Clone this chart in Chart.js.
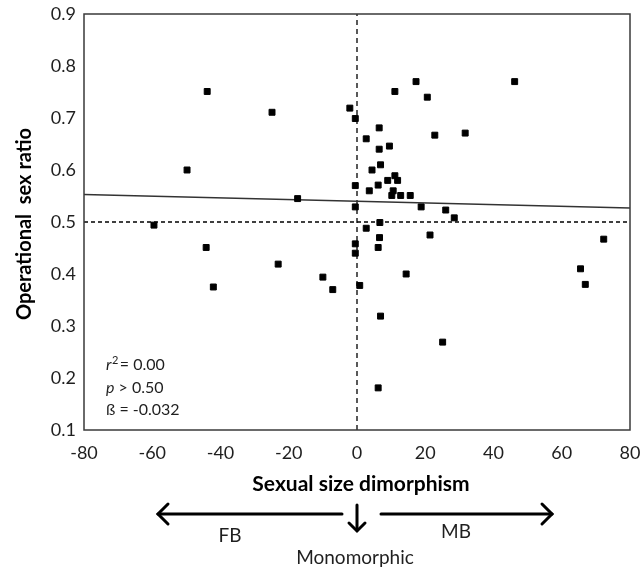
<!DOCTYPE html>
<html>
<head>
<meta charset="utf-8">
<script src="https://cdn.jsdelivr.net/npm/chart.js@4/dist/chart.umd.min.js"></script>
<style>
  html, body { margin: 0; padding: 0; background: #fff; }
</style>
</head>
<body>
<canvas id="osrChart" width="640" height="572"></canvas>
<script>
// sexual size dimorphism (x) and operational sex ratio (y), one entry per species
const ssd = [-43.9, -24.9, -49.8, -17.4, -59.5, -44.2, -42.1, -23.1, -10.0, -7.1,
             -2.1, -0.5, -0.5, -0.5, -0.5, -0.5, 0.8, 11.1, 17.3, 20.6,
             46.2, 6.5, 2.7, 22.8, 31.7, 6.5, 9.5, 6.9, 4.4, 3.6,
             6.2, 9.0, 11.1, 11.9, 10.6, 10.2, 12.8, 15.6, 18.8, 26.0,
             28.5, 6.7, 2.7, 21.4, 6.6, 6.2, 14.4, 6.9, 25.1, 6.2,
             72.3, 65.5, 66.9];
const osr = [0.751, 0.711, 0.600, 0.545, 0.494, 0.451, 0.375, 0.419, 0.394, 0.370,
             0.719, 0.699, 0.570, 0.529, 0.458, 0.440, 0.378, 0.751, 0.770, 0.740,
             0.770, 0.681, 0.660, 0.667, 0.671, 0.640, 0.646, 0.610, 0.600, 0.560,
             0.571, 0.580, 0.589, 0.580, 0.560, 0.551, 0.551, 0.551, 0.529, 0.523,
             0.508, 0.499, 0.488, 0.475, 0.470, 0.451, 0.400, 0.319, 0.269, 0.181,
             0.467, 0.410, 0.380];

// fitted regression line, end points
const fitX = [-80, 80];
const fitY = [0.553, 0.527];

// reference lines: monomorphic (x = 0) and even sex ratio (y = 0.5)
const monoX = [0, 0];
const monoY = [0.1, 0.9];
const evenX = [-80, 80];
const evenY = [0.5, 0.5];

const xTicks = [-80, -60, -40, -20, 0, 20, 40, 60, 80];
const yTicks = [0.1, 0.2, 0.3, 0.4, 0.5, 0.6, 0.7, 0.8, 0.9];

const stats = [
  { sym: 'r', sup: '2', rest: '= 0.00', italic: true },
  { sym: 'p', sup: '', rest: ' > 0.50', italic: true },
  { sym: 'ß', sup: '', rest: ' = -0.032', italic: false }
];

const FONT = 'Lato, "Open Sans", sans-serif';
const INK = '#1f1f1f';

const zip = (xs, ys) => xs.map((x, i) => ({ x, y: ys[i] }));

function arrowHead(ctx, x, y, dir) {
  // open chevron, dir: 'left' | 'right' | 'down'
  const s = 10;
  ctx.beginPath();
  if (dir === 'left')  { ctx.moveTo(x + s, y - s); ctx.lineTo(x, y); ctx.lineTo(x + s, y + s); }
  if (dir === 'right') { ctx.moveTo(x - s, y - s); ctx.lineTo(x, y); ctx.lineTo(x - s, y + s); }
  if (dir === 'down')  { ctx.moveTo(x - s * 0.8, y - s * 0.8); ctx.lineTo(x, y); ctx.lineTo(x + s * 0.8, y - s * 0.8); }
  ctx.stroke();
}

const decorations = {
  id: 'decorations',
  afterDraw(chart) {
    const { ctx, chartArea: a } = chart;
    ctx.save();

    // box around plot area
    ctx.strokeStyle = '#3a3a3a';
    ctx.lineWidth = 1.5;
    ctx.strokeRect(a.left, a.top, a.right - a.left, a.bottom - a.top);

    ctx.fillStyle = '#000';
    ctx.textAlign = 'center';
    ctx.textBaseline = 'middle';

    // axis titles
    ctx.font = 'bold 21px ' + FONT;
    ctx.fillText('Sexual size dimorphism', 361, 484);
    ctx.save();
    ctx.translate(25, 224);
    ctx.rotate(-Math.PI / 2);
    ctx.font = 'bold 20px ' + FONT;
    ctx.fillText('Operational  sex ratio', 0, 0);
    ctx.restore();

    // regression summary
    ctx.textAlign = 'left';
    ctx.fillStyle = INK;
    stats.forEach((s, i) => {
      const y = 365 + i * 22.5;
      let x = 106;
      ctx.font = (s.italic ? 'italic ' : '') + '16px ' + FONT;
      ctx.fillText(s.sym, x, y);
      x += ctx.measureText(s.sym).width;
      if (s.sup) {
        ctx.font = '11px ' + FONT;
        ctx.fillText(s.sup, x + 0.5, y - 5);
        x += ctx.measureText(s.sup).width + 2;
      }
      ctx.font = '16px ' + FONT;
      ctx.fillText(s.rest, x, y);
    });

    // direction arrows below the x axis
    ctx.strokeStyle = '#000';
    ctx.lineWidth = 3;
    ctx.lineCap = 'round';
    ctx.lineJoin = 'miter';
    ctx.beginPath();
    ctx.moveTo(342, 514); ctx.lineTo(158, 514);
    ctx.moveTo(381, 514); ctx.lineTo(552, 514);
    ctx.moveTo(357, 505); ctx.lineTo(357, 530);
    ctx.stroke();
    arrowHead(ctx, 158, 514, 'left');
    arrowHead(ctx, 552, 514, 'right');
    arrowHead(ctx, 357, 531, 'down');

    ctx.fillStyle = INK;
    ctx.textAlign = 'center';
    ctx.font = '19px ' + FONT;
    ctx.fillText('FB', 230, 536);
    ctx.fillText('MB', 456, 532);
    ctx.fillText('Monomorphic', 355, 558);

    ctx.restore();
  }
};

new Chart(document.getElementById('osrChart'), {
  type: 'scatter',
  data: {
    datasets: [
      {
        label: 'species',
        data: zip(ssd, osr),
        pointStyle: 'rect',
        pointRadius: 4.2,
        pointBorderWidth: 1,
        backgroundColor: '#000',
        borderColor: '#000',
        order: 0
      },
      {
        label: 'fit',
        data: zip(fitX, fitY),
        showLine: true,
        pointRadius: 0,
        borderColor: '#333',
        borderWidth: 1.4,
        order: 1
      },
      {
        label: 'monomorphic',
        data: zip(monoX, monoY),
        showLine: true,
        pointRadius: 0,
        borderColor: '#000',
        borderWidth: 1.3,
        borderDash: [5, 4],
        order: 2
      },
      {
        label: 'even',
        data: zip(evenX, evenY),
        showLine: true,
        pointRadius: 0,
        borderColor: '#000',
        borderWidth: 1.3,
        borderDash: [4, 3],
        order: 2
      }
    ]
  },
  options: {
    responsive: false,
    animation: false,
    devicePixelRatio: 1,
    layout: { padding: { left: 0, top: 14, right: 10, bottom: 0 } },
    plugins: { legend: { display: false }, tooltip: { enabled: false } },
    scales: {
      x: {
        type: 'linear',
        min: -80, max: 80,
        afterFit: s => { s.height = 142; s.paddingLeft = 0; s.paddingRight = 0; },
        afterBuildTicks: s => { s.ticks = xTicks.map(v => ({ value: v })); },
        grid: { display: false, drawTicks: false },
        border: { display: false },
        ticks: { padding: 12, color: INK, font: { family: FONT, size: 18 }, callback: v => String(v) }
      },
      y: {
        type: 'linear',
        min: 0.1, max: 0.9,
        afterFit: s => { s.width = 84; s.paddingTop = 0; s.paddingBottom = 0; },
        afterBuildTicks: s => { s.ticks = yTicks.map(v => ({ value: v })); },
        grid: { display: false, drawTicks: false },
        border: { display: false },
        ticks: { padding: 8, color: INK, font: { family: FONT, size: 18 }, callback: v => v.toFixed(1) }
      }
    }
  },
  plugins: [decorations]
});
</script>
</body>
</html>
